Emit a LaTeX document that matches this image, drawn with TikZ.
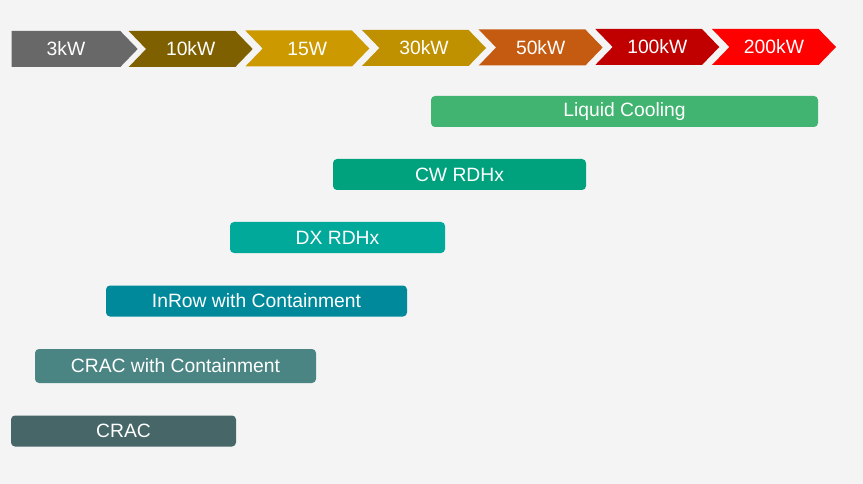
\documentclass[tikz,border=0pt]{standalone}
\usepackage{fontspec}
\setmainfont{Liberation Sans}
\usetikzlibrary{shapes.symbols}

\definecolor{bg}{HTML}{F4F4F4}
\definecolor{kwa}{HTML}{686868}
\definecolor{kwb}{HTML}{7F6000}
\definecolor{kwc}{HTML}{CC9A00}
\definecolor{kwd}{HTML}{BF9000}
\definecolor{kwe}{HTML}{C55A11}
\definecolor{kwf}{HTML}{C00000}
\definecolor{kwg}{HTML}{FF0000}
\definecolor{liquid}{HTML}{40B470}
\definecolor{cwrdhx}{HTML}{00A27E}
\definecolor{dxrdhx}{HTML}{00A99A}
\definecolor{inrow}{HTML}{00899A}
\definecolor{craccont}{HTML}{4A8583}
\definecolor{crac}{HTML}{466668}

\begin{document}
\begin{tikzpicture}[x=1pt, y=-1pt,
    every node/.style={text=white, font=\fontsize{19.3}{22}\selectfont, inner sep=0pt},
    chevron/.style={signal, signal from=west, signal to=east, signal pointer angle=92,
      minimum width=124pt, minimum height=36pt},
    band/.style={rounded corners=4pt, minimum height=31pt}]
      \fill[bg] (0,0) rectangle (863,484);
      \useasboundingbox (0,0) rectangle (863,484);

      % power density scale
      \node[chevron, signal from=nowhere, minimum width=126pt, fill=kwa] (kw3) at (66,49) {3kW};
      \node[chevron, fill=kwb] (kw10) at (190.7,49) {10kW};
      \node[chevron, fill=kwc] (kw15) at (307.3,48.5) {15W};
      \node[chevron, fill=kwd] (kw30) at (424,48) {30kW};
      \node[chevron, fill=kwe] (kw50) at (540.7,47.5) {50kW};
      \node[chevron, fill=kwf] (kw100) at (657.3,47) {100kW};
      \node[chevron, fill=kwg] (kw200) at (774,47) {200kW};

      % cooling ranges
      \node[band, fill=liquid, minimum width=387pt] (liquid) at (624.5,111.5) {Liquid Cooling};
      \node[band, fill=cwrdhx, minimum width=253pt] (cw) at (459.5,174.5) {CW RDHx};
      \node[band, fill=dxrdhx, minimum width=215pt] (dx) at (337.5,237.5) {DX RDHx};
      \node[band, fill=inrow, minimum width=301pt] (inrow) at (256.5,301) {InRow with Containment};
      \node[band, fill=craccont, minimum width=281pt, minimum height=34pt] (craccont) at (175.5,366) {CRAC with Containment};
      \node[band, fill=crac, minimum width=225pt] (crac) at (123.5,431) {CRAC};
    \end{tikzpicture}
\end{document}
